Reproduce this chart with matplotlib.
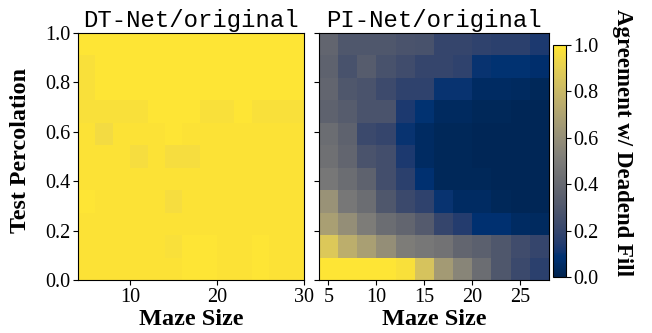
import numpy as np
import matplotlib.pyplot as plt

# maze sizes (cell centres) and percolation bins, rows listed from p=0.0 upward
dt_sizes = [5, 7, 9, 11, 13, 15, 17, 19, 21, 23, 25, 27, 29]
pi_sizes = [5, 7, 9, 11, 13, 15, 17, 19, 21, 23, 25, 27]

dt_agree = [
    [0.98, 0.98, 0.98, 0.98, 0.98, 0.98, 0.99, 0.99, 0.98, 0.98, 0.99, 0.98, 0.98],
    [0.98, 0.98, 0.98, 0.98, 0.98, 0.97, 0.99, 0.99, 0.98, 0.98, 0.99, 0.98, 0.98],
    [0.98, 0.98, 0.98, 0.98, 0.98, 0.98, 0.98, 0.98, 0.98, 0.98, 0.98, 0.98, 0.98],
    [0.99, 0.98, 0.98, 0.98, 0.98, 0.96, 0.98, 0.98, 0.98, 0.98, 0.98, 0.98, 0.98],
    [0.98, 0.98, 0.98, 0.98, 0.98, 0.98, 0.98, 0.98, 0.98, 0.98, 0.98, 0.98, 0.98],
    [0.98, 0.98, 0.98, 0.96, 0.98, 0.96, 0.96, 0.98, 0.98, 0.98, 0.98, 0.98, 0.98],
    [0.98, 0.95, 0.98, 0.98, 0.98, 0.99, 0.98, 0.98, 0.98, 0.98, 0.98, 0.98, 0.98],
    [0.97, 0.97, 0.97, 0.97, 0.99, 0.99, 0.99, 0.97, 0.97, 0.99, 0.97, 0.97, 0.97],
    [0.97, 0.99, 0.99, 0.99, 0.99, 0.99, 0.99, 0.99, 0.99, 0.99, 0.99, 0.99, 0.99],
    [0.97, 0.99, 0.99, 0.99, 0.99, 0.99, 0.99, 0.99, 0.99, 0.99, 0.99, 0.99, 0.99],
    [0.99, 0.99, 0.99, 0.99, 0.99, 0.99, 0.99, 0.99, 0.99, 0.99, 0.99, 0.99, 0.99],
]

pi_agree = [
    [0.99, 0.99, 0.99, 0.99, 0.97, 0.85, 0.66, 0.55, 0.42, 0.30, 0.22, 0.17],
    [0.87, 0.75, 0.68, 0.60, 0.50, 0.48, 0.45, 0.38, 0.35, 0.30, 0.24, 0.20],
    [0.68, 0.60, 0.50, 0.42, 0.38, 0.32, 0.20, 0.15, 0.08, 0.08, 0.05, 0.04],
    [0.62, 0.48, 0.42, 0.30, 0.22, 0.18, 0.10, 0.05, 0.05, 0.03, 0.02, 0.02],
    [0.48, 0.42, 0.36, 0.25, 0.17, 0.08, 0.03, 0.03, 0.03, 0.02, 0.02, 0.02],
    [0.44, 0.38, 0.28, 0.25, 0.13, 0.05, 0.03, 0.03, 0.02, 0.02, 0.02, 0.02],
    [0.42, 0.36, 0.22, 0.20, 0.10, 0.05, 0.03, 0.03, 0.02, 0.02, 0.02, 0.02],
    [0.36, 0.33, 0.28, 0.28, 0.13, 0.09, 0.04, 0.04, 0.03, 0.03, 0.02, 0.02],
    [0.38, 0.30, 0.28, 0.23, 0.18, 0.18, 0.10, 0.10, 0.05, 0.05, 0.04, 0.03],
    [0.36, 0.27, 0.33, 0.27, 0.24, 0.20, 0.20, 0.18, 0.10, 0.09, 0.09, 0.07],
    [0.38, 0.30, 0.30, 0.30, 0.28, 0.27, 0.20, 0.20, 0.18, 0.17, 0.17, 0.13],
]

plt.rcParams['font.family'] = 'Liberation Serif'

fig = plt.figure(figsize=(6.52, 3.33), dpi=100)
ax1 = fig.add_axes([0.1196, 0.159, 0.3466, 0.742])
ax2 = fig.add_axes([0.489, 0.159, 0.353, 0.742])
cax = fig.add_axes([0.848, 0.168, 0.02, 0.697])


def draw(ax, sizes, vals, title):
    sizes = np.array(sizes)
    step = sizes[1] - sizes[0]
    xe = np.append(sizes - step / 2, sizes[-1] + step / 2)
    ye = np.linspace(0, 1, len(vals) + 1)
    m = ax.pcolormesh(xe, ye, np.array(vals), cmap='cividis', vmin=0, vmax=1)
    ax.set_title(title, family='Liberation Mono', fontsize=17.3, pad=4)
    ax.set_xlabel('Maze Size', fontsize=17.5, fontweight='bold', labelpad=2)
    ax.tick_params(labelsize=14.5, pad=2)
    return m


draw(ax1, dt_sizes, dt_agree, 'DT-Net/original')
m = draw(ax2, pi_sizes, pi_agree, 'PI-Net/original')

ax1.set_xticks([10, 20, 30])
ax1.set_yticks([0, 0.2, 0.4, 0.6, 0.8, 1.0])
ax1.set_ylabel('Test Percolation', fontsize=17.3, fontweight='bold')
ax1.yaxis.set_label_coords(-0.21, 0.525)
ax2.set_xticks([5, 10, 15, 20, 25])
ax2.set_yticks([0, 0.2, 0.4, 0.6, 0.8, 1.0])
ax2.set_yticklabels([])

cb = fig.colorbar(m, cax=cax)
cb.ax.tick_params(labelsize=14.5, pad=2)
cb.set_ticks([0, 0.2, 0.4, 0.6, 0.8, 1.0])
fig.text(623 / 652, 1 - 143 / 333, 'Agreement w/ Deadend Fill', fontsize=16.5,
         fontweight='bold', rotation=270, ha='center', va='center')

fig.savefig('out.png', dpi=100)
